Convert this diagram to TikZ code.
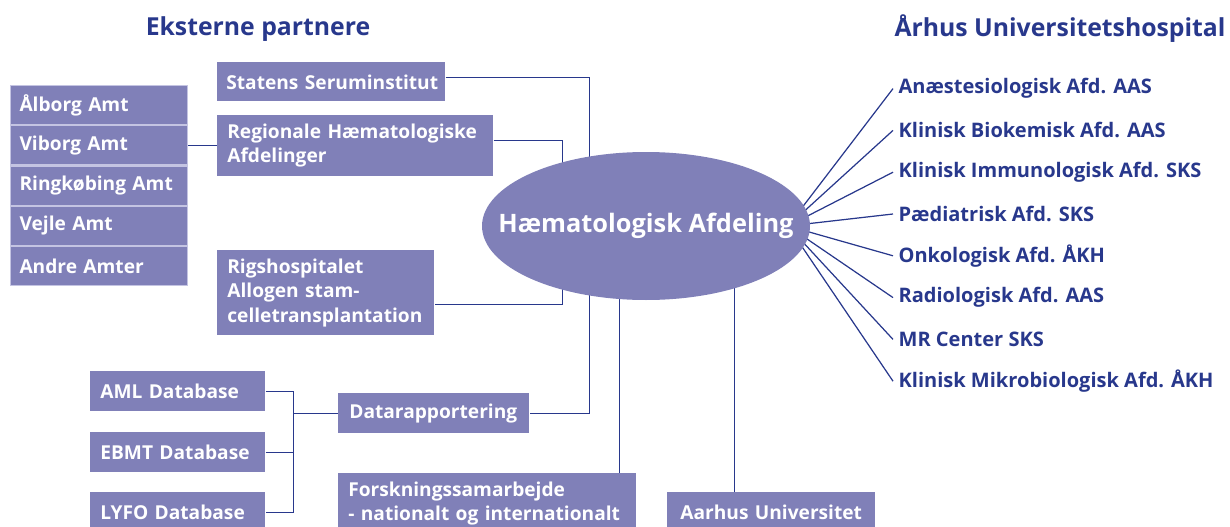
\documentclass[tikz,border=0pt]{standalone}
\usepackage{fontspec}
\setmainfont{Open Sans}
\usetikzlibrary{shapes.geometric,positioning,backgrounds,calc}
\definecolor{boxfill}{RGB}{128,128,184}
\definecolor{navy}{RGB}{40,56,140}
\definecolor{rowline}{RGB}{196,196,226}
\newlength{\px}
\setlength{\px}{0.02cm}

\begin{document}
\begin{tikzpicture}[x=0.02cm,y=-0.02cm,
  box/.style={fill=boxfill,text=white,font=\bfseries\fontsize{10.9}{13.8}\selectfont,
    align=left,inner xsep=10\px,inner ysep=0pt,anchor=north west},
  amt/.style={box,draw=rowline,line width=0.6pt,inner xsep=9\px,text width=159\px,minimum height=39.2\px},
  head/.style={text=navy,font=\bfseries\fontsize{14.1}{16}\selectfont},
  dept/.style={anchor=west,text=navy,font=\bfseries\fontsize{11.4}{13}\selectfont,inner sep=3pt},
  hub/.style={ellipse,fill=boxfill,minimum width=328\px,minimum height=148\px,inner sep=0pt},
  link/.style={navy,line width=0.7pt}]
\useasboundingbox (0,0) rectangle (1230,527);

\node[head] (ext) at (258,29) {Eksterne partnere};
\node[head] (auh) at (1060,29) {Århus Universitetshospital};

\node[amt] (amt1) at (10,85) {Ålborg Amt};
\node[amt,below=0pt of amt1] (amt2) {Viborg Amt};
\node[amt,below=0pt of amt2] (amt3) {Ringkøbing Amt};
\node[amt,below=0pt of amt3] (amt4) {Vejle Amt};
\node[amt,below=0pt of amt4] (amt5) {Andre Amter};

\node[box,text width=210\px,minimum height=39\px,inner xsep=9\px] (stat) at (217,62) {\mbox{Statens Seruminstitut}};
\node[box,text width=256\px,minimum height=61\px] (reg) at (217,115) {Regionale Hæmatologiske\\Afdelinger};
\node[box,text width=197\px,minimum height=85\px] (rigs) at (217,250) {Rigshospitalet\\Allogen stam-\\celletransplantation};
\node[box,text width=169\px,minimum height=40\px,inner xsep=11\px] (data) at (338,393) {Datarapportering};
\node[box,text width=155\px,minimum height=40\px] (aml) at (90,371) {AML Database};
\node[box,text width=155\px,minimum height=40\px] (ebmt) at (90,432) {EBMT Database};
\node[box,text width=155\px,minimum height=40\px] (lyfo) at (90,492) {LYFO Database};
\node[box,text width=278\px,minimum height=60\px] (forsk) at (338,473) {Forskningssamarbejde\\- nationalt og internationalt};
\node[box,text width=182\px,minimum height=40\px,inner xsep=13\px] (aau) at (667,492) {Aarhus Universitet};

\node[hub] (haem) at (646,226) {};
\node[text=white,font=\bfseries\fontsize{14.45}{17}\selectfont] (haemtext) at (haem.center) {Hæmatologisk Afdeling};

\foreach \t [count=\i] in {Anæstesiologisk Afd. AAS,Klinisk Biokemisk Afd. AAS,
  Klinisk Immunologisk Afd. SKS,Pædiatrisk Afd. SKS,Onkologisk Afd. ÅKH,
  Radiologisk Afd. AAS,MR Center SKS,Klinisk Mikrobiologisk Afd. ÅKH}
  \node[dept] (d\i) at (893,46.8+41.8*\i) {\t};
\coordinate (fan) at (788,226);

\begin{pgfonlayer}{background}
\draw[link] (amt2.east) -- (amt2.east -| reg.west);
\draw[link] ([yshift=2.5pt]stat.east) -- ++(144,0) |- (data.east);
\draw[link] ([yshift=3pt]reg.east) -- ++(69,0) |- ([yshift=-6.5pt]rigs.east);
\draw[link] ([xshift=75pt]forsk.north) -- ++(0,-250);
\draw[link] ([xshift=-21pt]aau.north) -- ++(0,-270);
\draw[link] (aml.east) -- ++(28,0) coordinate (brk) |- (lyfo.east);
\draw[link] (ebmt.east) -- (ebmt.east -| brk);
\draw[link] (data.west) -- (data.west -| brk);
\foreach \i in {1,...,8}
  \draw[link] (fan) -- (d\i.west);
\end{pgfonlayer}
\end{tikzpicture}
\end{document}
